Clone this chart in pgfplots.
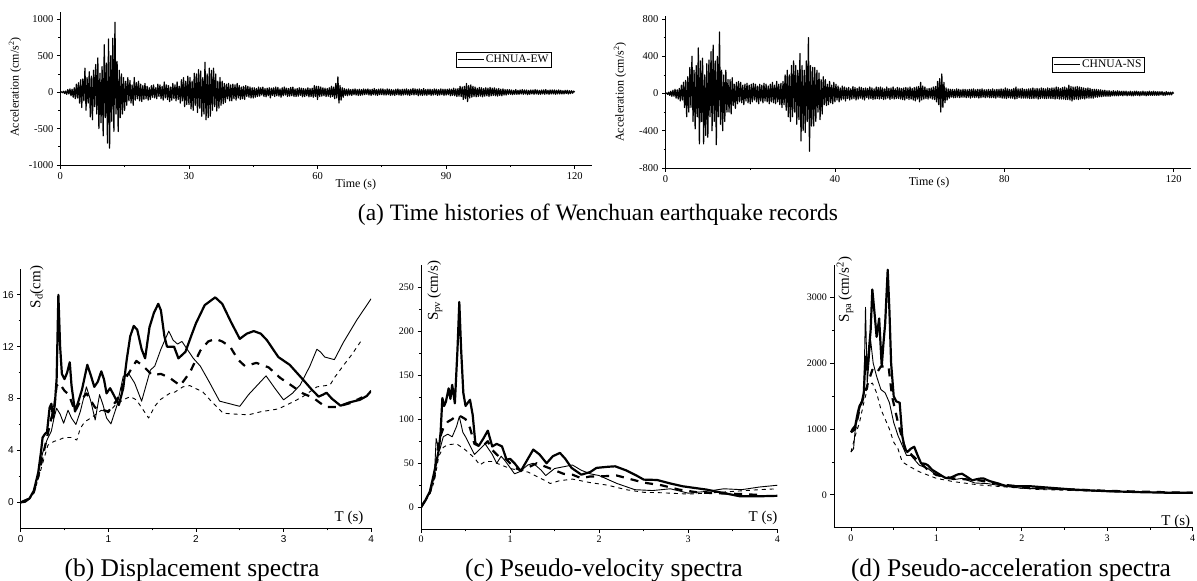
\documentclass[border=0pt]{standalone}
\usepackage{fontspec}
\setmainfont{Liberation Serif}
\newfontfamily\arialfont{Liberation Sans}
\usepackage{pgfplots}
\pgfplotsset{compat=1.18}
\pgfplotsset{
  base/.style={scale only axis, axis x line*=bottom, axis y line*=left, tick align=outside,
    major tick length=3.5pt, minor tick length=2pt, minor x tick num=1, minor y tick num=1,
    axis line style={-, line width=0.8pt}, every tick/.append style={line width=0.7pt, black},
    /pgf/number format/assume math mode=true, /pgf/number format/1000 sep={}, scaled ticks=false,
    tick label style={font=\fontsize{10.5}{12}\selectfont}, label style={font=\fontsize{12}{14}\selectfont}},
  hist/.style={line width=1.2pt, black, line join=round},
  TS/.style={line width=2.2pt, line join=round, black},
  TD/.style={line width=2.2pt, line join=round, dash pattern=on 8pt off 7pt, black},
  thinS/.style={line width=0.9pt, line join=round, black},
  thinD/.style={line width=0.9pt, line join=round, dash pattern=on 4pt off 4pt, black},
}
\begin{document}
\begin{tikzpicture}
\useasboundingbox (0pt,0pt) rectangle (1197pt,-581pt);
% ---------------- (a) EW
\begin{axis}[base, at={(60.3pt,-165pt)}, anchor=south west, width=531.6pt, height=153pt,
  xmin=0, xmax=124, ymin=-1000, ymax=1100,
  xtick={0,30,60,90,120}, ytick={-1000,-500,0,500,1000},
  xlabel={Time (s)}, ylabel={Acceleration (cm/s\textsuperscript{2})},
  xlabel style={at={(axis description cs:0.556,-0.131)}, anchor=center},
  ylabel style={at={(axis description cs:-0.0852,0.51)}, anchor=center},
  legend style={at={(0.744,0.74)}, anchor=north west, draw=black, line width=0.7pt, inner sep=1pt,
    font=\fontsize{11.5}{13}\selectfont, legend cell align=left},
  legend image code/.code={\draw[#1,line width=0.7pt] (0pt,0pt) -- (26pt,0pt);}]
\addplot[hist] table[x expr=\coordindex*0.25, y index=0, header=false, row sep=\\] {
0\\5\\-8\\12\\-20\\15\\-30\\35\\-25\\45\\-50\\40\\-70\\60\\-90\\110\\-80\\130\\-150\\170\\
-210\\180\\-120\\330\\-250\\200\\-150\\280\\-340\\220\\-380\\300\\-200\\380\\-300\\470\\-500\\260\\-420\\350\\
-600\\650\\-350\\400\\-700\\730\\-770\\500\\-400\\740\\-540\\960\\-300\\420\\-540\\300\\-350\\250\\-300\\200\\
-250\\150\\-180\\200\\-120\\160\\-150\\100\\-180\\200\\-110\\130\\-90\\150\\-120\\110\\-130\\90\\-100\\120\\
-90\\80\\-110\\60\\-100\\90\\-70\\100\\-80\\60\\-90\\110\\-60\\100\\-90\\80\\-110\\140\\-80\\100\\
-100\\90\\-130\\70\\-110\\120\\-90\\100\\-120\\140\\-100\\80\\-150\\170\\-120\\200\\-200\\150\\-170\\220\\
-170\\200\\-230\\150\\-250\\260\\-180\\250\\-280\\310\\-220\\290\\-330\\200\\-300\\410\\-380\\250\\-350\\330\\
-330\\300\\-250\\330\\-200\\250\\-260\\150\\-220\\200\\-180\\150\\-160\\120\\-140\\110\\-90\\120\\-120\\100\\
-120\\110\\-90\\100\\-110\\120\\-80\\90\\-100\\70\\-90\\80\\-100\\90\\-60\\80\\-70\\70\\-80\\60\\
-80\\60\\-70\\50\\-60\\70\\-55\\60\\-40\\70\\-60\\50\\-65\\55\\-50\\60\\-80\\55\\-45\\60\\
-60\\70\\-50\\65\\-55\\45\\-70\\60\\-50\\70\\-40\\55\\-60\\50\\-55\\65\\-50\\70\\-60\\45\\
-60\\50\\-55\\60\\-45\\55\\-65\\50\\-60\\45\\-50\\60\\-65\\50\\-60\\55\\-70\\90\\-60\\80\\
-100\\80\\-60\\70\\-55\\60\\-50\\55\\-60\\50\\-55\\60\\-70\\80\\-60\\70\\-90\\120\\-80\\210\\
-150\\90\\-110\\60\\-70\\50\\-45\\40\\-50\\45\\-40\\35\\-45\\40\\-35\\45\\-40\\35\\-45\\40\\
-45\\35\\-40\\45\\-35\\40\\-30\\45\\-40\\35\\-45\\40\\-35\\50\\-40\\35\\-45\\40\\-35\\45\\
-35\\45\\-40\\35\\-40\\45\\-35\\40\\-45\\35\\-40\\30\\-45\\40\\-35\\45\\-40\\35\\-45\\40\\
-40\\40\\-35\\45\\-40\\35\\-45\\40\\-35\\50\\-40\\45\\-35\\40\\-50\\45\\-40\\35\\-45\\50\\
-40\\35\\-45\\40\\-35\\40\\-45\\35\\-40\\45\\-35\\40\\-45\\35\\-40\\45\\-35\\40\\-45\\40\\
-40\\40\\-35\\45\\-50\\40\\-45\\55\\-50\\45\\-60\\50\\-55\\80\\-60\\70\\-100\\80\\-90\\120\\
-130\\90\\-80\\100\\-70\\80\\-60\\70\\-65\\55\\-60\\65\\-55\\60\\-65\\50\\-55\\60\\-50\\55\\
-60\\65\\-50\\55\\-45\\60\\-50\\45\\-55\\50\\-45\\40\\-50\\45\\-40\\35\\-40\\35\\-30\\35\\
-30\\30\\-35\\25\\-30\\35\\-30\\25\\-30\\30\\-25\\35\\-30\\30\\-25\\30\\-35\\25\\-30\\30\\
-25\\30\\-30\\35\\-25\\30\\-30\\25\\-30\\30\\-25\\30\\-30\\35\\-25\\25\\-30\\30\\-25\\30\\
-25\\30\\-30\\25\\-25\\30\\-25\\25\\-25\\20\\-25\\25\\-20\\25\\-25\\20\\-20\\20\\-15\\15\\
0\\
};
\addlegendentry{CHNUA-EW}
\end{axis}
% ---------------- (a) NS
\begin{axis}[base, at={(665.5pt,-168pt)}, anchor=south west, width=525.1pt, height=151.8pt,
  xmin=0, xmax=124, ymin=-800, ymax=830,
  xtick={0,40,80,120}, ytick={-800,-400,0,400,800},
  xlabel={Time (s)}, ylabel={Acceleration (cm/s\textsuperscript{2})},
  xlabel style={at={(axis description cs:0.502,-0.097)}, anchor=center},
  ylabel style={at={(axis description cs:-0.0867,0.50)}, anchor=center},
  legend style={at={(0.736,0.733)}, anchor=north west, draw=black, line width=0.7pt, inner sep=1pt,
    font=\fontsize{11.5}{13}\selectfont, legend cell align=left},
  legend image code/.code={\draw[#1,line width=0.7pt] (0pt,0pt) -- (26pt,0pt);}]
\addplot[hist] table[x expr=\coordindex*0.25, y index=0, header=false, row sep=\\] {
0\\6\\-10\\15\\-20\\25\\-30\\35\\-30\\45\\-50\\40\\-60\\55\\-80\\90\\-70\\120\\-150\\140\\
-250\\180\\-200\\280\\-150\\400\\-300\\250\\-380\\300\\-250\\490\\-540\\350\\-300\\380\\-540\\200\\-450\\320\\
-470\\360\\-250\\450\\-400\\520\\-300\\350\\-550\\400\\-250\\660\\-330\\250\\-400\\200\\-300\\250\\-200\\150\\
-200\\150\\-220\\170\\-130\\100\\-160\\120\\-110\\130\\-90\\120\\-100\\90\\-120\\100\\-80\\110\\-100\\90\\
-110\\100\\-90\\110\\-70\\100\\-90\\80\\-110\\100\\-80\\90\\-100\\110\\-80\\100\\-90\\80\\-110\\100\\
-90\\120\\-100\\90\\-110\\130\\-90\\100\\-120\\110\\-150\\130\\-120\\200\\-180\\250\\-250\\200\\-300\\300\\
-250\\350\\-200\\300\\-330\\250\\-280\\430\\-510\\300\\-400\\250\\-420\\350\\-300\\600\\-620\\300\\-350\\280\\
-350\\280\\-300\\250\\-200\\220\\-280\\150\\-220\\180\\-120\\150\\-130\\100\\-120\\130\\-100\\90\\-110\\120\\
-90\\100\\-70\\80\\-90\\60\\-70\\80\\-60\\70\\-80\\60\\-55\\65\\-70\\50\\-60\\75\\-55\\65\\
-70\\55\\-60\\70\\-50\\65\\-60\\55\\-70\\60\\-45\\55\\-60\\70\\-55\\60\\-65\\50\\-60\\70\\
-55\\65\\-60\\70\\-55\\60\\-65\\50\\-60\\70\\-50\\55\\-65\\60\\-55\\70\\-60\\50\\-55\\65\\
-55\\60\\-60\\55\\-65\\60\\-70\\65\\-55\\60\\-65\\70\\-60\\55\\-70\\65\\-80\\70\\-60\\75\\
-90\\120\\-70\\80\\-60\\70\\-55\\50\\-60\\55\\-50\\60\\-60\\70\\-65\\75\\-90\\130\\-120\\160\\
-200\\210\\-150\\120\\-100\\60\\-70\\50\\-50\\45\\-40\\45\\-45\\40\\-45\\50\\-40\\45\\-45\\40\\
-40\\45\\-40\\45\\-45\\40\\-40\\45\\-50\\45\\-40\\50\\-45\\40\\-40\\45\\-50\\45\\-45\\50\\
-40\\40\\-45\\40\\-40\\45\\-45\\40\\-45\\50\\-45\\40\\-50\\45\\-40\\45\\-45\\50\\-50\\45\\
-50\\60\\-55\\50\\-45\\45\\-50\\45\\-50\\55\\-60\\70\\-55\\50\\-45\\50\\-50\\55\\-50\\45\\
-50\\45\\-50\\50\\-55\\50\\-55\\60\\-55\\50\\-50\\55\\-60\\50\\-55\\60\\-50\\55\\-55\\50\\
-55\\60\\-50\\55\\-55\\60\\-55\\60\\-60\\70\\-55\\65\\-60\\55\\-60\\65\\-60\\70\\-65\\60\\
-65\\90\\-70\\75\\-80\\70\\-65\\70\\-60\\75\\-65\\70\\-60\\65\\-55\\60\\-60\\55\\-50\\60\\
-50\\55\\-50\\45\\-50\\45\\-40\\45\\-40\\40\\-35\\40\\-35\\35\\-30\\35\\-30\\30\\-30\\30\\
-30\\25\\-25\\30\\-25\\25\\-25\\30\\-25\\25\\-20\\25\\-25\\25\\-20\\25\\-25\\20\\-20\\25\\
-25\\20\\-25\\25\\-20\\25\\-20\\20\\-25\\20\\-20\\25\\-20\\20\\-25\\20\\-20\\25\\-20\\20\\
-20\\25\\-20\\20\\-20\\20\\-20\\20\\-15\\20\\-20\\15\\-20\\20\\-15\\15\\-15\\15\\-15\\15\\
0\\
};
\addlegendentry{CHNUA-NS}
\end{axis}
% ---------------- (b) displacement
\begin{axis}[base, at={(20.7pt,-528.3pt)}, anchor=south west, width=350.5pt, height=259.5pt,
  xmin=0, xmax=4, ymin=-2, ymax=18, xtick={0,1,2,3,4}, ytick={0,4,8,12,16},
  tick label style={font=\arialfont\fontsize{10}{12}\selectfont},
  label style={font=\fontsize{15}{17}\selectfont},
  xlabel={T (s)}, ylabel={S\textsubscript{d}(cm)},
  xlabel style={at={(axis description cs:0.937,0.040)}, anchor=center},
  ylabel style={at={(axis description cs:0.0457,0.930)}, anchor=center}]
\addplot[thinD] coordinates {(0,0) (0.1,0.25) (0.15,0.7) (0.2,1.8) (0.25,3.0) (0.31,4.4) (0.38,4.7) (0.43,4.8) (0.5,5.0) (0.58,5.0) (0.64,4.8) (0.68,5.7) (0.73,6.2) (0.8,6.5) (0.92,7.1) (1.0,6.9) (1.08,7.5) (1.17,7.9) (1.25,8.15) (1.32,7.9) (1.38,7.3) (1.46,6.5) (1.53,7.4) (1.59,7.9) (1.7,8.4) (1.76,8.5) (1.85,8.9) (1.93,9.0) (2.08,8.5) (2.18,7.75) (2.31,6.87) (2.45,6.8) (2.6,6.75) (2.75,7.0) (2.85,7.1) (2.94,7.2) (3.11,7.75) (3.22,8.15) (3.38,8.9) (3.53,9.05) (3.59,9.7) (3.7,10.7) (3.78,11.4) (3.89,12.5)};
\addplot[thinS] coordinates {(0,0) (0.1,0.3) (0.15,0.8) (0.2,2.2) (0.25,3.8) (0.3,4.8) (0.35,5.5) (0.38,6.5) (0.41,7.25) (0.45,6.8) (0.49,6.1) (0.54,7.1) (0.58,6.5) (0.63,6.0) (0.68,7.0) (0.75,8.9) (0.8,7.8) (0.85,6.35) (0.9,8.3) (0.94,7.5) (0.98,6.5) (1.03,6.05) (1.1,7.5) (1.17,9.7) (1.23,9.95) (1.3,9.2) (1.38,7.8) (1.43,9.0) (1.48,10.2) (1.53,10.5) (1.6,11.8) (1.69,13.2) (1.74,12.5) (1.79,12.2) (1.84,12.4) (1.9,11.8) (1.97,11.1) (2.05,10.5) (2.15,9.3) (2.27,7.8) (2.5,7.4) (2.6,8.3) (2.8,9.75) (2.9,8.8) (3.0,7.9) (3.1,8.4) (3.19,9.05) (3.3,10.5) (3.38,11.8) (3.42,11.6) (3.47,11.2) (3.58,11.0) (3.68,12.3) (3.84,14.1) (4.0,15.7)};
\addplot[TD] coordinates {(0,0) (0.1,0.3) (0.15,0.8) (0.2,2.0) (0.25,3.5) (0.3,5.0) (0.35,6.5) (0.38,7.2) (0.41,9.0) (0.44,9.2) (0.5,8.6) (0.55,8.3) (0.62,7.0) (0.68,7.8) (0.75,8.4) (0.85,7.3) (1.0,7.0) (1.1,7.9) (1.2,9.6) (1.32,10.9) (1.4,10.5) (1.5,9.8) (1.6,9.9) (1.7,9.6) (1.82,9.0) (1.93,10.0) (2.05,11.7) (2.14,12.4) (2.22,12.6) (2.3,12.4) (2.39,12.0) (2.48,11.0) (2.56,10.5) (2.69,10.75) (2.83,10.4) (2.96,9.6) (3.07,9.1) (3.22,8.4) (3.34,8.05) (3.48,7.35) (3.6,7.35) (3.76,7.65) (3.9,8.1)};
\addplot[TS] coordinates {(0,0) (0.05,0.05) (0.1,0.3) (0.15,0.9) (0.2,2.3) (0.23,3.8) (0.25,5.0) (0.28,5.3) (0.3,5.4) (0.33,7.3) (0.35,7.6) (0.37,6.5) (0.39,7.6) (0.41,9.5) (0.43,16.0) (0.45,12.0) (0.47,9.9) (0.5,9.5) (0.53,10.0) (0.56,10.8) (0.58,9.0) (0.62,7.0) (0.65,7.6) (0.7,8.7) (0.76,10.6) (0.8,9.8) (0.84,8.9) (0.88,9.3) (0.92,10.1) (0.95,9.5) (0.98,8.4) (1.02,8.8) (1.06,8.3) (1.12,7.5) (1.17,8.8) (1.21,11.0) (1.25,12.8) (1.29,13.6) (1.33,13.3) (1.38,11.8) (1.42,11.1) (1.47,13.5) (1.52,14.6) (1.57,15.3) (1.6,14.8) (1.64,12.8) (1.67,12.0) (1.75,12.0) (1.8,11.1) (1.88,11.6) (1.95,12.9) (2.0,13.8) (2.1,15.2) (2.22,15.8) (2.3,15.3) (2.4,13.9) (2.5,12.6) (2.58,13.0) (2.66,13.2) (2.74,13.0) (2.81,12.5) (2.94,11.2) (3.07,10.6) (3.15,10.0) (3.23,9.4) (3.32,8.7) (3.40,8.15) (3.45,8.3) (3.49,8.45) (3.55,8.0) (3.65,7.45) (3.75,7.7) (3.87,7.9) (3.95,8.2) (4.0,8.6)};
\end{axis}
% ---------------- (c) pseudo-velocity
\begin{axis}[base, at={(421pt,-529.3pt)}, anchor=south west, width=356.3pt, height=264.3pt,
  xmin=0, xmax=4, ymin=-25, ymax=275, xtick={0,1,2,3,4}, ytick={0,50,100,150,200,250},
  tick label style={font=\fontsize{10}{12}\selectfont},
  label style={font=\fontsize{15}{17}\selectfont},
  xlabel={T (s)}, ylabel={S\textsubscript{pv}\,(cm/s)},
  xlabel style={at={(axis description cs:0.960,0.043)}, anchor=center},
  ylabel style={at={(axis description cs:0.039,0.903)}, anchor=center}]
\addplot[thinD] coordinates {(0,0) (0.05,7) (0.1,15) (0.15,30) (0.2,58) (0.25,68) (0.3,71) (0.4,72) (0.5,65) (0.6,56) (0.66,48) (0.72,52) (0.8,52) (0.9,48) (1.0,44) (1.2,40) (1.3,35) (1.4,30) (1.45,27) (1.55,30) (1.7,32) (1.9,28) (2.1,25) (2.3,20) (2.5,17) (2.7,16.5) (3.0,15) (3.2,16) (3.5,18) (3.8,20) (4.0,21)};
\addplot[thinS] coordinates {(0,0) (0.05,8) (0.1,18) (0.15,35) (0.17,78) (0.19,70) (0.21,65) (0.25,80) (0.3,83) (0.35,80) (0.4,92) (0.43,103) (0.47,85) (0.5,80) (0.55,70) (0.6,60) (0.65,65) (0.72,72) (0.8,60) (0.85,50) (0.9,58) (0.95,52) (1.05,38) (1.1,40) (1.2,48) (1.26,50) (1.35,42) (1.4,36) (1.5,44) (1.6,46) (1.7,48) (1.8,42) (1.9,38) (2.0,36) (2.2,27) (2.4,20) (2.6,19) (2.8,21) (3.0,16) (3.2,18) (3.4,21) (3.6,20) (3.8,23) (4.0,25)};
\addplot[TD] coordinates {(0,0) (0.05,8) (0.1,17) (0.15,35) (0.2,75) (0.25,90) (0.3,97) (0.35,100) (0.4,104) (0.45,103) (0.5,100) (0.55,90) (0.6,72) (0.68,68) (0.75,75) (0.8,65) (0.88,57) (0.95,55) (1.05,45) (1.12,42) (1.2,45) (1.3,50) (1.4,46) (1.5,42) (1.6,38) (1.7,37) (1.8,33) (1.9,35) (2.0,35) (2.2,36) (2.35,32) (2.5,28) (2.7,25) (2.9,20) (3.1,17) (3.3,16) (3.6,15) (3.8,14)};
\addplot[TS] coordinates {(0,0) (0.05,8) (0.1,18) (0.138,35) (0.17,50) (0.2,65) (0.22,85) (0.24,124) (0.26,115) (0.28,120) (0.31,135) (0.33,123) (0.35,139) (0.38,118) (0.41,180) (0.43,233) (0.45,180) (0.475,130) (0.5,115) (0.55,122) (0.58,105) (0.61,73) (0.65,70) (0.7,78) (0.75,87) (0.8,69) (0.85,72) (0.91,69) (0.96,54) (1.0,55) (1.05,50) (1.12,41) (1.2,55) (1.26,65.5) (1.33,60) (1.41,50) (1.48,58) (1.56,61.7) (1.62,55) (1.69,44.7) (1.8,37) (1.9,40) (1.97,44.7) (2.1,46) (2.18,46.5) (2.3,42) (2.42,36) (2.5,31.4) (2.65,31) (2.8,27) (2.94,23.8) (3.21,20) (3.39,16.3) (3.58,12.5) (3.8,12.5) (4.0,13)};
\end{axis}
% ---------------- (d) pseudo-acceleration
\begin{axis}[base, at={(833.9pt,-527.7pt)}, anchor=south west, width=358.7pt, height=263.2pt,
  xmin=-0.2, xmax=4, ymin=-500, ymax=3500, xtick={0,1,2,3,4}, ytick={0,1000,2000,3000},
  tick label style={font=\fontsize{10}{12}\selectfont},
  label style={font=\fontsize{15}{17}\selectfont},
  xlabel={T (s)}, ylabel={S\textsubscript{pa}\,(cm/s\textsuperscript{2})},
  xlabel style={at={(axis description cs:0.953,0.023)}, anchor=center},
  ylabel style={at={(axis description cs:0.031,0.905)}, anchor=center}]
\addplot[thinD] coordinates {(0,650) (0.05,900) (0.1,1100) (0.15,1400) (0.2,1650) (0.25,1700) (0.3,1550) (0.35,1300) (0.4,1150) (0.45,1000) (0.5,800) (0.55,700) (0.6,500) (0.7,420) (0.8,350) (0.9,300) (1.0,250) (1.2,200) (1.5,150) (1.8,120) (2.2,80) (3.0,50) (4.0,30)};
\addplot[thinS] coordinates {(0,650) (0.03,700) (0.05,1000) (0.1,1300) (0.15,1500) (0.17,2850) (0.19,1700) (0.21,2000) (0.23,2350) (0.26,2000) (0.3,1800) (0.35,1600) (0.4,1550) (0.45,1400) (0.5,1100) (0.55,900) (0.6,750) (0.65,600) (0.7,600) (0.8,450) (0.9,400) (1.0,300) (1.2,230) (1.3,250) (1.45,180) (1.6,170) (1.8,130) (2.0,100) (2.5,80) (3.0,50) (4.0,30)};
\addplot[TD] coordinates {(0,950) (0.05,1000) (0.1,1300) (0.15,1500) (0.2,1700) (0.25,1900) (0.3,1850) (0.35,1950) (0.4,1950) (0.44,1950) (0.48,1500) (0.55,1100) (0.6,850) (0.65,650) (0.7,620) (0.8,500) (0.9,380) (1.0,300) (1.2,250) (1.5,220) (1.8,150) (2.2,100) (3.0,60) (4.0,30)};
\addplot[TS] coordinates {(0,950) (0.02,1000) (0.05,1050) (0.08,1250) (0.1,1350) (0.13,1420) (0.15,1550) (0.17,2100) (0.19,1900) (0.21,2200) (0.23,2500) (0.25,3120) (0.28,2700) (0.3,2400) (0.33,2680) (0.36,1950) (0.38,2300) (0.4,2600) (0.43,3420) (0.45,2800) (0.47,2000) (0.5,1500) (0.53,1420) (0.57,1400) (0.6,900) (0.63,700) (0.66,650) (0.7,700) (0.74,730) (0.78,600) (0.82,480) (0.87,470) (0.9,450) (0.95,380) (1.0,340) (1.1,260) (1.15,250) (1.25,310) (1.3,320) (1.35,280) (1.42,220) (1.5,245) (1.55,250) (1.62,210) (1.7,180) (1.8,140) (1.9,130) (2.1,130) (2.3,110) (2.6,80) (3.0,55) (3.4,40) (3.7,32) (4.0,30)};
\end{axis}
% ---------------- captions
\node[anchor=base, font=\fontsize{23.5}{28}\selectfont] at (598pt,-220pt) {(a) Time histories of Wenchuan earthquake records};
\node[anchor=base, font=\fontsize{25.5}{30}\selectfont] at (192pt,-576.5pt) {(b) Displacement spectra};
\node[anchor=base, font=\fontsize{25.5}{30}\selectfont] at (604pt,-576.5pt) {(c) Pseudo-velocity spectra};
\node[anchor=base, font=\fontsize{25.5}{30}\selectfont] at (1011pt,-576.5pt) {(d) Pseudo-acceleration spectra};
\end{tikzpicture}
\end{document}
